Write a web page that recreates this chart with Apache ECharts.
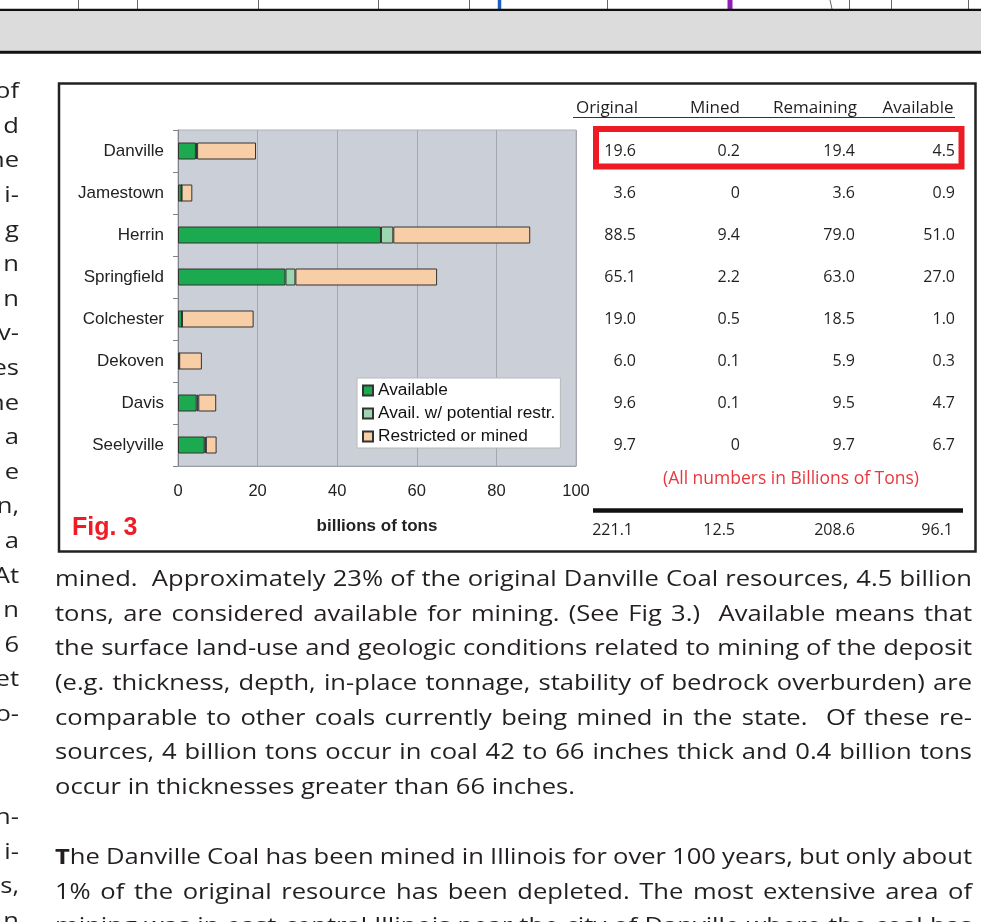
<!DOCTYPE html>
<html><head><meta charset="utf-8">
<script src="https://cdn.jsdelivr.net/npm/echarts@6/dist/echarts.min.js"></script>
<style>html,body{margin:0;padding:0;background:#fff}#c{width:981px;height:922px}</style>
</head><body><div id="c"></div>
<script>
// ---------------- data ----------------
const categories = ['Danville','Jamestown','Herrin','Springfield','Colchester','Dekoven','Davis','Seelyville'];
const availableVals  = [4.5, 0.9, 51.0, 27.0, 1.0, 0.3, 4.7, 6.7];
const potentialVals  = [0.3, 0, 3.1, 2.5, 0, 0, 0.4, 0.3];
const restrictedVals = [14.8, 2.7, 34.4, 35.6, 18.0, 5.7, 4.5, 2.7];
const seriesNames = ['Available', 'Avail. w/ potential restr.', 'Restricted or mined'];
const xMin = 0, xMax = 100, xInterval = 20;
const axisName = 'billions of tons';
const figLabel = 'Fig. 3';

const tableHeaders   = ['Original','Mined','Remaining','Available'];
const tableOriginal  = ['19.6','3.6','88.5','65.1','19.0','6.0','9.6','9.7'];
const tableMined     = ['0.2','0','9.4','2.2','0.5','0.1','0.1','0'];
const tableRemaining = ['19.4','3.6','79.0','63.0','18.5','5.9','9.5','9.7'];
const tableAvailable = ['4.5','0.9','51.0','27.0','1.0','0.3','4.7','6.7'];
const tableTotals    = ['221.1','12.5','208.6','96.1'];
const tableNote = '(All numbers in Billions of Tons)';

const paragraph1Lines = [
  'mined.  Approximately 23% of the original Danville Coal resources, 4.5 billion',
  'tons, are considered available for mining. (See Fig 3.)  Available means that',
  'the surface land-use and geologic conditions related to mining of the deposit',
  '(e.g. thickness, depth, in-place tonnage, stability of bedrock overburden) are',
  'comparable to other coals currently being mined in the state.  Of these re-',
  'sources, 4 billion tons occur in coal 42 to 66 inches thick and 0.4 billion tons',
  'occur in thicknesses greater than 66 inches.'
];
const paragraph2Lines = [
  'The Danville Coal has been mined in Illinois for over 100 years, but only about',
  '1% of the original resource has been depleted. The most extensive area of',
  'mining was in east-central Illinois near the city of Danville where the coal has'
];
const leftFragmentsTop = ['of','d','ne','i-','g','n','n','v-','es','ne','a','e','n,','a','At','n','6','et','o-'];
const leftFragmentsBottom = ['n-','i-','s,','n'];

// ---------------- chart ----------------
const chart = echarts.init(document.getElementById('c'), null, {renderer:'canvas', width:981, height:922});
const AX = '"Liberation Sans", Arial, sans-serif';
const barBorder = {borderColor:'#333', borderWidth:1};
const option = {
  animation:false,
  backgroundColor:'#fff',
  textStyle:{fontFamily:AX},
  grid:{left:178, top:130, width:398, height:336, show:true, backgroundColor:'#cbcfd7', borderColor:'#aeb1b8', borderWidth:1, containLabel:false},
  legend:{
    orient:'vertical', left:357, top:378, itemWidth:10, itemHeight:10, itemGap:6, icon:'rect',
    backgroundColor:'#fff', borderColor:'#b8b8b8', borderWidth:1, borderRadius:0, padding:[4,5,3,5],
    textStyle:{fontSize:17.3, color:'#111', fontFamily:AX},
    data:seriesNames
  },
  xAxis:{
    type:'value', min:xMin, max:xMax, interval:xInterval,
    axisLine:{show:true, lineStyle:{color:'#9c9fa6'}}, axisTick:{show:false},
    splitLine:{show:true, lineStyle:{color:'#a4a7ae', width:1}},
    axisLabel:{fontSize:16.5, color:'#222', margin:17},
    name:axisName, nameLocation:'middle', nameGap:52,
    nameTextStyle:{fontSize:17, fontWeight:'bold', color:'#222'}
  },
  yAxis:{
    type:'category', data:categories, inverse:true,
    axisLine:{show:true, lineStyle:{color:'#7f8288'}},
    axisTick:{show:true, length:5, lineStyle:{color:'#7f8288'}},
    axisLabel:{fontSize:17, color:'#222', margin:14}
  },
  series:[
    {name:seriesNames[0], type:'bar', stack:'t', data:availableVals, barWidth:17, itemStyle:Object.assign({color:'#1baa4f'}, barBorder)},
    {name:seriesNames[1], type:'bar', stack:'t', data:potentialVals, barWidth:17, itemStyle:Object.assign({color:'#9dd5ae'}, barBorder)},
    {name:seriesNames[2], type:'bar', stack:'t', data:restrictedVals, barWidth:17, itemStyle:Object.assign({color:'#f8cea6'}, barBorder)}
  ]
};
chart.setOption(option);

// ---------------- page graphics ----------------
const G = [];
function rect(x,y,w,h,style){ G.push({type:'rect', shape:{x:x,y:y,width:w,height:h}, style:style, silent:true}); }
function line(x1,y1,x2,y2,stroke,lw){ G.push({type:'line', shape:{x1:x1,y1:y1,x2:x2,y2:y2}, style:{stroke:stroke, lineWidth:lw}, silent:true}); }
function text(t,x,y,font,fill,align,sx){ G.push({type:'text', x:x, y:y, scaleX:sx||1, style:{text:t, font:font, fill:fill, textAlign:align||'left', textVerticalAlign:'middle'}, silent:true, z:10}); }

// top strip
[78,137,258,378,469,607,849,891,968].forEach(x=>line(x+0.5,0,x+0.5,9,'#666',1));
line(830,0,832,9,'#666',1);
line(499.5,0,499.5,9,'#1f5fbf',3.5);
line(730,0,730,9,'#8e1fb5',5);
line(0,10,981,10,'#111',2.5);
rect(0,11.25,981,39.5,{fill:'#dcdcdc'});
line(0,52.2,981,52.2,'#111',3);

// figure frame
rect(59,83.5,916.5,468,{fill:'none', stroke:'#222', lineWidth:2.5});

// Fig label
text(figLabel,72,528,'bold 25px "Liberation Sans", Arial','#ee1c25','left');

// table
const TF = '"Open Sans", sans-serif';
const TC = '#231f20';
const headerCenters = [607,715,815,918];
tableHeaders.forEach((h,i)=>text(h,headerCenters[i],108,'17px '+TF,TC,'center'));
line(573,117.5,955,117.5,'#333',1);
const colRight = [636,740,855,955];
const cols = [tableOriginal, tableMined, tableRemaining, tableAvailable];
categories.forEach((c,r)=>{
  const y = chart.convertToPixel({yAxisIndex:0}, c);
  cols.forEach((col,ci)=>text(col[r], colRight[ci], y, '16px '+TF, TC, 'right'));
});
rect(596,129,365.5,37.5,{fill:'none', stroke:'#ed1c24', lineWidth:6});
text(tableNote,791,479,'17.5px '+TF,'#e8383d','center');
line(593,510.5,963,510.5,'#111',4.5);
const totRight = [633,735,855,953];
tableTotals.forEach((t,i)=>text(t,totRight[i],530,'16px '+TF,TC,'right'));

// body text (justified)
const mctx = document.createElement('canvas').getContext('2d');
function tw(s,font){ mctx.font = font; return mctx.measureText(s).width; }
const BF = '"Open Sans", sans-serif';
const LEFT = 55, RIGHT = 972, W = RIGHT-LEFT;
const LAST_LINE_W = 520;
const fs = 22;
const MIN_GAP = 4.5;
function font(b){ return (b?'bold ':'') + fs.toFixed(2)+'px '+BF; }
function pieces(word, boldFirst){ return boldFirst ? [{t:word[0],b:true},{t:word.slice(1),b:false}] : [{t:word,b:false}]; }
function wordsOf(str, boldFirst){
  const words = str.split(' ');
  const wp = words.map((w,i)=>pieces(w, boldFirst && i===0));
  const ww = wp.map(ps=>ps.reduce((a,p)=>a+tw(p.t,font(p.b)),0));
  return {words, wp, ww, sum: ww.reduce((a,b)=>a+b,0)};
}
// horizontal scale factor so glyph widths approach the reference face
const lastLine = paragraph1Lines[paragraph1Lines.length-1];
let sx = LAST_LINE_W / tw(lastLine, font(false));
const fitSets = paragraph1Lines.slice(0,-1).map(l=>[l,false]).concat(paragraph2Lines.slice(0,2).map((l,i)=>[l,i===0]));
fitSets.forEach(([l,b])=>{ const o = wordsOf(l,b); sx = Math.min(sx, (W - MIN_GAP*(o.words.length-1))/o.sum); });
sx = Math.min(sx, 1.2);
function layoutLine(str, y, justify, boldFirst){
  const o = wordsOf(str, boldFirst);
  const n = o.words.length;
  let lsx = sx;
  if (justify && n>1 && (W - o.sum*lsx)/(n-1) < MIN_GAP) lsx = (W - MIN_GAP*(n-1))/o.sum;
  const gap = justify && n>1 ? (W - o.sum*lsx)/(n-1) : tw(' ',font(false))*lsx;
  let x = LEFT;
  o.wp.forEach((ps,i)=>{
    let px = x;
    ps.forEach(p=>{ if(p.t){ text(p.t,px,y,font(p.b),TC,'left',lsx); } px += tw(p.t,font(p.b))*lsx; });
    x += o.ww[i]*lsx + gap;
  });
}
const LH = 34.6;
paragraph1Lines.forEach((l,i)=>layoutLine(l, 580 + i*LH, i < paragraph1Lines.length-1, false));
paragraph2Lines.forEach((l,i)=>layoutLine(l, 858 + i*LH, true, i===0));
leftFragmentsTop.forEach((s,i)=>text(s,19,92 + i*LH,font(false),TC,'right',sx));
leftFragmentsBottom.forEach((s,i)=>text(s,19,818 + i*LH,font(false),TC,'right',sx));

chart.setOption({graphic:{elements:G}});
</script>
</body></html>
